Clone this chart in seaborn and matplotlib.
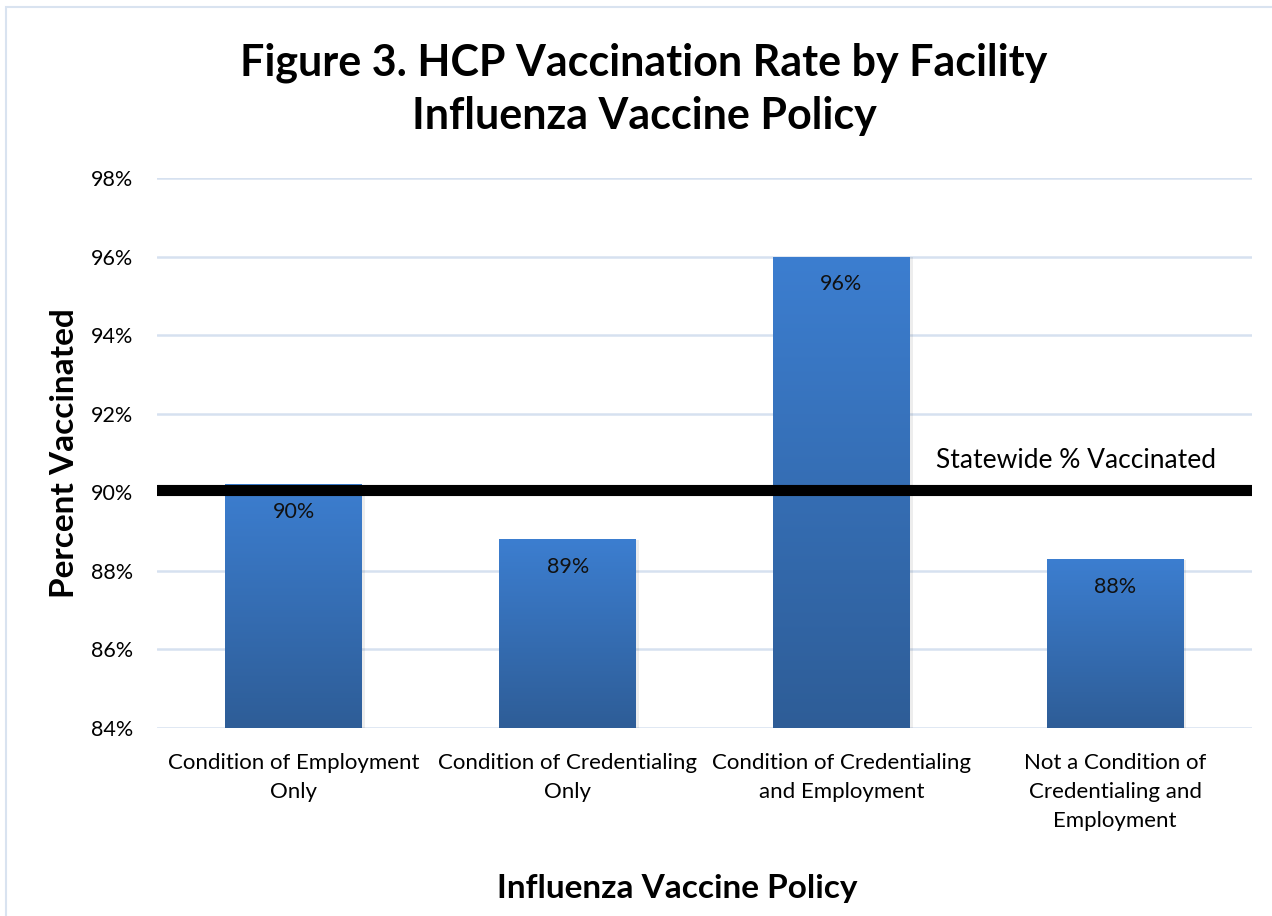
import numpy as np
import pandas as pd
import seaborn as sns
import matplotlib.pyplot as plt
from matplotlib.patches import Rectangle

# data
policies = ["Condition of Employment\nOnly",
            "Condition of Credentialing\nOnly",
            "Condition of Credentialing\nand Employment",
            "Not a Condition of\nCredentialing and\nEmployment"]
pct_vaccinated = [90.2, 88.8, 96.0, 88.3]
bar_labels = ["90%", "89%", "96%", "88%"]
statewide = 90.05
y_ticks = [84, 86, 88, 90, 92, 94, 96, 98]

df = pd.DataFrame({"policy": policies, "pct": pct_vaccinated})

sns.set_theme(style="white")
plt.rcParams["font.family"] = ["Lato", "DejaVu Sans"]
plt.rcParams["text.color"] = "black"
plt.rcParams["axes.labelcolor"] = "black"
plt.rcParams["xtick.color"] = "black"
plt.rcParams["ytick.color"] = "black"

fig = plt.figure(figsize=(12.72, 9.16), dpi=100)
ax = fig.add_axes([157 / 1272, 1 - 728 / 916, (1252 - 157) / 1272, (728 - 178) / 916])

sns.barplot(data=df, x="policy", y="pct", ax=ax, width=0.5, color="#3A78C6",
            edgecolor="none", zorder=2)
ax.set_ylim(84, 98)
ax.set_xlim(-0.5, 3.5)

# gradient fill, light at top and darker at bottom
grad = np.linspace(0, 1, 256).reshape(-1, 1)
cmap = sns.blend_palette(["#2E5D97", "#3C7ED0"], as_cmap=True)
for p in ax.patches:
    x0, y0 = p.get_x(), p.get_y()
    w, h = p.get_width(), p.get_height()
    sh = Rectangle((x0 + 0.01, 84), w, y0 + h - 84 - 0.02, color="#00000012",
                   zorder=1.5, lw=0)
    ax.add_patch(sh)
    im = ax.imshow(grad, extent=[x0, x0 + w, 84, y0 + h], origin="lower",
                   cmap=cmap, aspect="auto", zorder=2.1)
    im.set_clip_path(p)
    p.set_alpha(0)

for i, (v, lab) in enumerate(zip(pct_vaccinated, bar_labels)):
    ax.text(i, v - 0.7, lab, ha="center", va="center", fontsize=15.5, color="#111111",
            zorder=4)

# statewide line
ax.axhline(statewide, color="black", lw=8, zorder=3)
ax.text(3.37, statewide + 0.75, "Statewide % Vaccinated", ha="right", va="center",
        fontsize=19, color="black", zorder=4)

ax.set_yticks(y_ticks)
ax.set_yticklabels([f"{t}%" for t in y_ticks], fontsize=15.5)
ax.yaxis.grid(True, color="#D6E1F0", lw=1.8, zorder=0)
ax.set_axisbelow(True)
for s in ax.spines.values():
    s.set_visible(False)
ax.tick_params(axis="y", length=0, pad=17)
ax.tick_params(axis="x", length=0, pad=18, labelsize=16)
for t in ax.get_xticklabels():
    t.set_linespacing(1.55)

ax.set_xlabel("Influenza Vaccine Policy", fontsize=24, fontweight="bold")
ax.xaxis.set_label_coords((677 - 157) / 1095, -0.265)
ax.set_ylabel("Percent Vaccinated", fontsize=24, fontweight="bold")
ax.yaxis.set_label_coords((79 - 157) / 1095, 0.5)

fig.text(644 / 1272, 1 - 89 / 916, "Figure 3. HCP Vaccination Rate by Facility\nInfluenza Vaccine Policy",
         ha="center", va="center", fontsize=31, fontweight="bold", linespacing=1.4)

# light outer border like the chart area frame
fig.patches.append(Rectangle((6 / 1272, -0.01), 1.0, 1 - 7 / 916 + 0.01,
                             transform=fig.transFigure, fill=False,
                             edgecolor="#D9E3F0", lw=1.5))

fig.savefig("out.png", dpi=100)
